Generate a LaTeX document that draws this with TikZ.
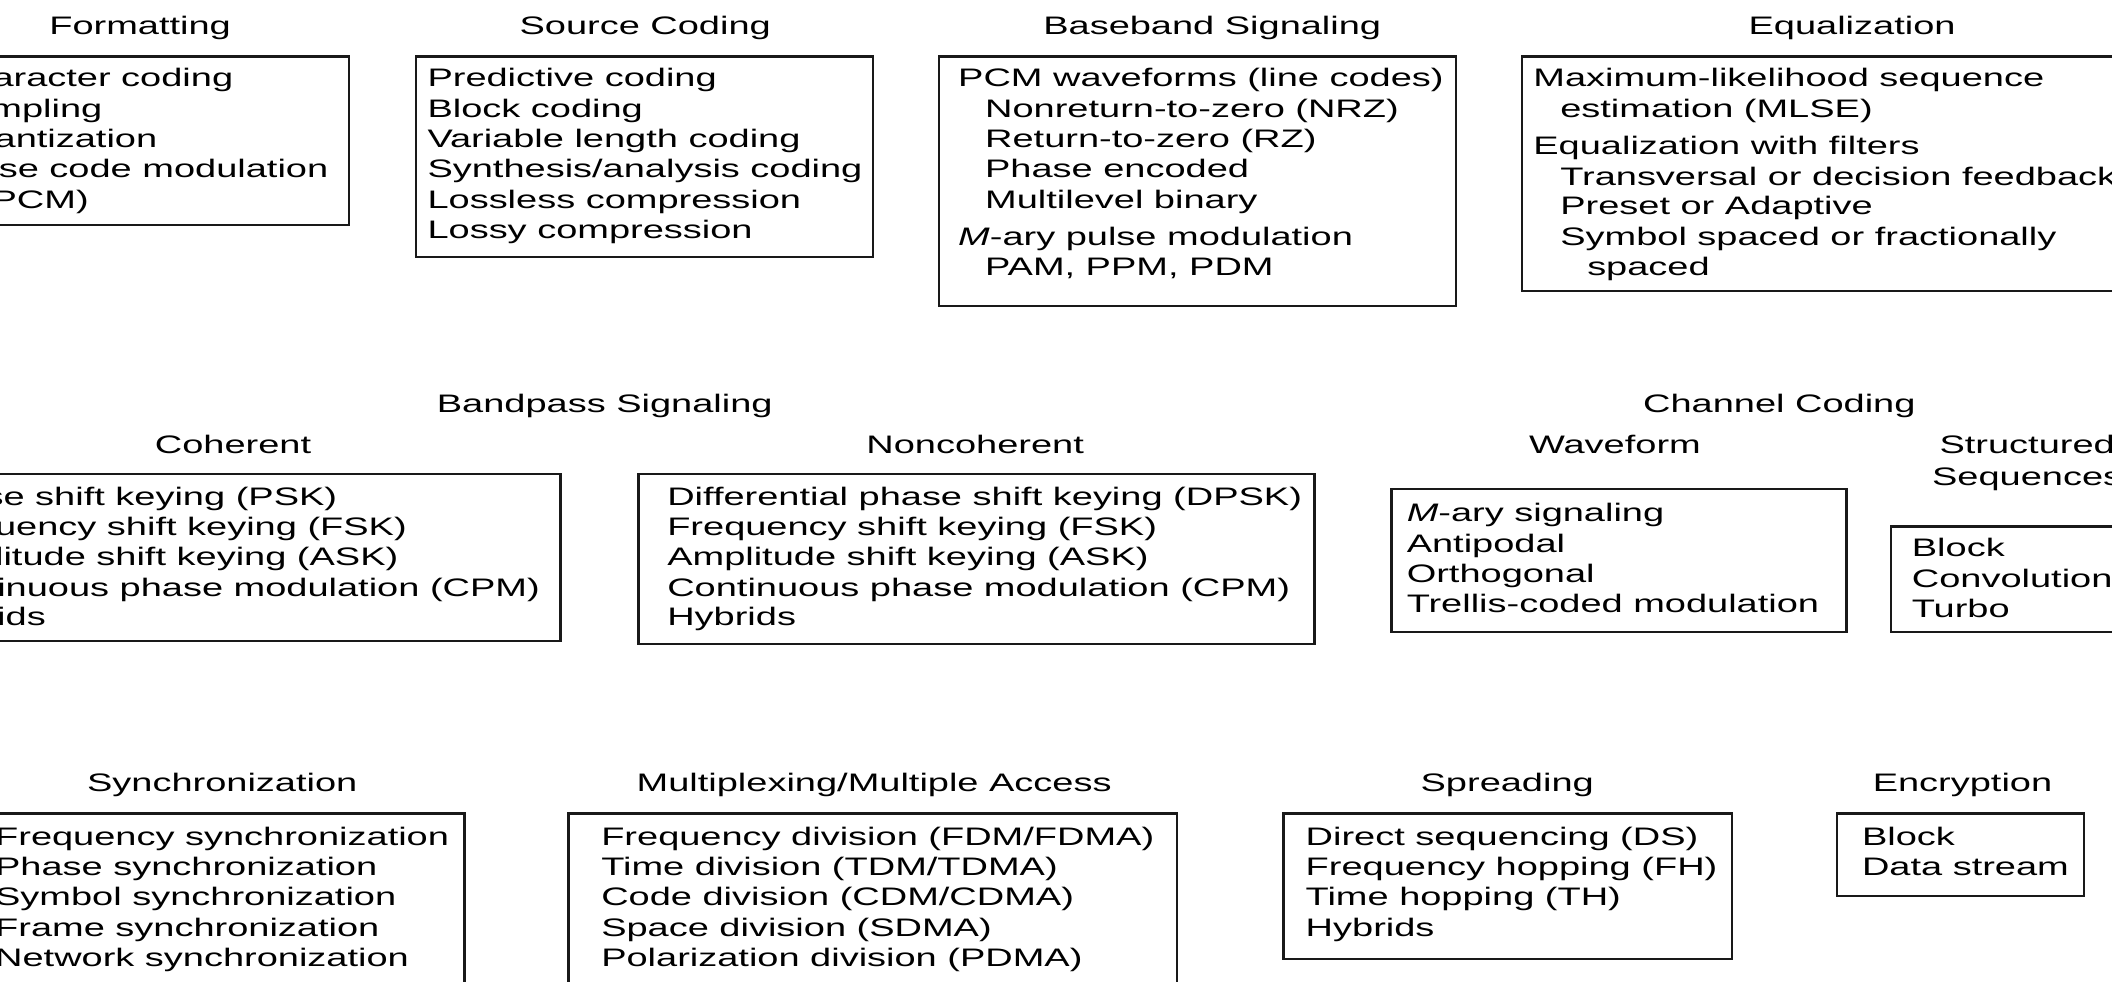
\documentclass[tikz,border=0pt]{standalone}
\usepackage{fontspec}
\setmainfont[FakeStretch=1.50]{Liberation Sans}
\usetikzlibrary{fit}
\begin{document}
\begin{tikzpicture}[x=0.5pt,y=-0.5pt,
  every node/.style={font=\fontsize{9.4pt}{11pt}\selectfont},
  ln/.style={anchor=base west, inner sep=0pt},
  ttl/.style={anchor=base, inner sep=0pt},
  bx/.style={draw=black!90, line width=0.9pt, inner sep=0pt, rectangle}]
\useasboundingbox (0,0) rectangle (1568,729);
\clip (0,0) rectangle (1568,729);
% ---------- Row 1 ----------
\node[ttl] (tFmt) at (104,25.5) {Formatting};
\node[bx, fit={(-50,42) (259,167)}] (bFmt) {};
\node[ln] (f1) at (-42,64.5) {Character coding};
\node[ln] (f2) at (-42,87) {Sampling};
\node[ln] (f3) at (-42,109.5) {Quantization};
\node[ln] (f4) at (-42,132) {Pulse code modulation};
\node[ln] (f5) at (-16,154.5) {(PCM)};

\node[ttl] (tSrc) at (479,25.5) {Source Coding};
\node[bx, fit={(309,42) (648,191)}] (bSrc) {};
\node[ln] (s1) at (317,64.5) {Predictive coding};
\node[ln] (s2) at (317,87) {Block coding};
\node[ln] (s3) at (317,109.5) {Variable length coding};
\node[ln] (s4) at (317,132) {Synthesis/analysis coding};
\node[ln] (s5) at (317,154.5) {Lossless compression};
\node[ln] (s6) at (317,177) {Lossy compression};

\node[ttl] (tBb) at (900,25.5) {Baseband Signaling};
\node[bx, fit={(697,42) (1081,227)}] (bBb) {};
\node[ln] (b1) at (711,64.5) {PCM waveforms (line codes)};
\node[ln] (b2) at (731,87) {Nonreturn-to-zero (NRZ)};
\node[ln] (b3) at (731,109.5) {Return-to-zero (RZ)};
\node[ln] (b4) at (731,132) {Phase encoded};
\node[ln] (b5) at (731,154.5) {Multilevel binary};
\node[ln] (b6) at (711,182.5) {\textit{M}-ary pulse modulation};
\node[ln] (b7) at (731,204.5) {PAM, PPM, PDM};

\node[ttl] (tEq) at (1375,25.5) {Equalization};
\node[bx, fit={(1130,42) (1620,216)}] (bEq) {};
\node[ln] (e1) at (1138,64.5) {Maximum-likelihood sequence};
\node[ln] (e2) at (1158,87) {estimation (MLSE)};
\node[ln] (e3) at (1138,114.5) {Equalization with filters};
\node[ln] (e4) at (1158,137.5) {Transversal or decision feedback};
\node[ln] (e5) at (1158,159.5) {Preset or Adaptive};
\node[ln] (e6) at (1158,182.5) {Symbol spaced or fractionally};
\node[ln] (e7) at (1178,204.5) {spaced};
% ---------- Row 2 ----------
\node[ttl] (tBp) at (449,306.5) {Bandpass Signaling};
\node[ttl] (tCoh) at (173,336.5) {Coherent};
\node[bx, fit={(-84,352) (416,476)}] (bCoh) {};
\node[ln] (c1) at (-62,375.5) {Phase shift keying (PSK)};
\node[ln] (c2) at (-62,397.5) {Frequency shift keying (FSK)};
\node[ln] (c3) at (-62,419.5) {Amplitude shift keying (ASK)};
\node[ln] (c4) at (-62,442.5) {Continuous phase modulation (CPM)};
\node[ln] (c5) at (-62,464.5) {Hybrids};

\node[ttl] (tNc) at (724,336.5) {Noncoherent};
\node[bx, fit={(474,352) (976,478)}] (bNc) {};
\node[ln] (n1) at (495,375.5) {Differential phase shift keying (DPSK)};
\node[ln] (n2) at (495,397.5) {Frequency shift keying (FSK)};
\node[ln] (n3) at (495,419.5) {Amplitude shift keying (ASK)};
\node[ln] (n4) at (495,442.5) {Continuous phase modulation (CPM)};
\node[ln] (n5) at (495,464.5) {Hybrids};

\node[ttl] (tCc) at (1321,306.5) {Channel Coding};
\node[ttl] (tWf) at (1199,336.5) {Waveform};
\node[bx, fit={(1033,363) (1371,469)}] (bWf) {};
\node[ln] (w1) at (1044,387.5) {\textit{M}-ary signaling};
\node[ln] (w2) at (1044,410) {Antipodal};
\node[ln] (w3) at (1044,432.5) {Orthogonal};
\node[ln] (w4) at (1044,455) {Trellis-coded modulation};

\node[ttl] (tSs1) at (1505,336.5) {Structured};
\node[ttl] (tSs2) at (1505,360.5) {Sequences};
\node[bx, fit={(1404,391) (1606,469)}] (bSs) {};
\node[ln] (q1) at (1419,413.5) {Block};
\node[ln] (q2) at (1419,436) {Convolutional};
\node[ln] (q3) at (1419,458.5) {Turbo};
% ---------- Row 3 ----------
\node[ttl] (tSy) at (165,587.5) {Synchronization};
\node[bx, fit={(-15,604) (345,745)}] (bSy) {};
\node[ln] (y1) at (-4,627.5) {Frequency synchronization};
\node[ln] (y2) at (-4,650) {Phase synchronization};
\node[ln] (y3) at (-4,672.5) {Symbol synchronization};
\node[ln] (y4) at (-4,695) {Frame synchronization};
\node[ln] (y5) at (-4,717.5) {Network synchronization};

\node[ttl] (tMx) at (649,587.5) {Multiplexing/Multiple Access};
\node[bx, fit={(422,604) (874,745)}] (bMx) {};
\node[ln] (m1) at (446,627.5) {Frequency division (FDM/FDMA)};
\node[ln] (m2) at (446,650) {Time division (TDM/TDMA)};
\node[ln] (m3) at (446,672.5) {Code division (CDM/CDMA)};
\node[ln] (m4) at (446,695) {Space division (SDMA)};
\node[ln] (m5) at (446,717.5) {Polarization division (PDMA)};

\node[ttl] (tSp) at (1119,587.5) {Spreading};
\node[bx, fit={(953,604) (1286,712)}] (bSp) {};
\node[ln] (p1) at (969,627.5) {Direct sequencing (DS)};
\node[ln] (p2) at (969,650) {Frequency hopping (FH)};
\node[ln] (p3) at (969,672.5) {Time hopping (TH)};
\node[ln] (p4) at (969,695) {Hybrids};

\node[ttl] (tEn) at (1457,587.5) {Encryption};
\node[bx, fit={(1364,604) (1547,665)}] (bEn) {};
\node[ln] (r1) at (1382,627.5) {Block};
\node[ln] (r2) at (1382,650) {Data stream};
\end{tikzpicture}
\end{document}
